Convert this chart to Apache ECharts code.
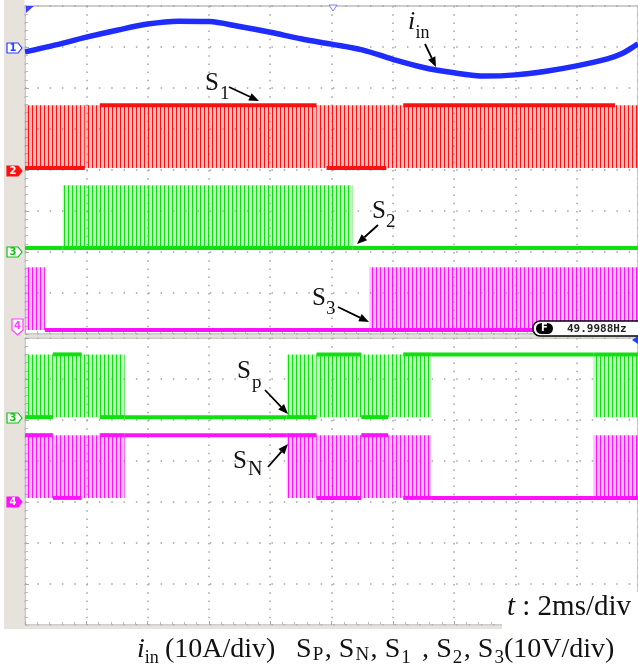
<!DOCTYPE html>
<html>
<head>
<meta charset="utf-8">
<script src="https://cdn.jsdelivr.net/npm/echarts@6.0.0/dist/echarts.min.js"></script>
<style>
  html, body { margin: 0; padding: 0; background: #fff; }
  #chart { width: 638px; height: 667px; }
</style>
</head>
<body>
<div id="chart"></div>
<script>
// time base 2 ms/div, 10 divisions
const timeTicks = [0, 2, 4, 6, 8, 10, 12, 14, 16, 18, 20];

// input current i_in (A)
const iinTime = [0, 1, 2, 3, 4, 5, 6, 7, 8, 9, 10, 11, 12, 13, 14, 15, 16, 17, 18, 19, 19.5, 19.8, 20];
const iinAmp = [-1.2, 0.5, 2.4, 4.1, 5.6, 6.3, 6.2, 5.0, 3.6, 2.0, 0.7, -0.7, -3.0, -5.0, -6.3, -7.1, -6.8, -5.9, -4.6, -2.9, -1.5, -0.2, 0.8];

// gate signals: [start ms, end ms, state]
// H = high, L = low, P = switching, PH = switching mostly high, PL = switching mostly low
const s1Seg = [[0, 1.95, 'PL'], [1.95, 2.44, 'P'], [2.44, 9.51, 'PH'], [9.51, 9.84, 'P'], [9.84, 11.79, 'PL'],
  [11.79, 12.34, 'P'], [12.34, 19.25, 'PH'], [19.25, 20, 'P']];
const s2Seg = [[0, 1.23, 'L'], [1.23, 10.68, 'PL'], [10.68, 20, 'L']];
const s3Seg = [[0, 0.65, 'P'], [0.65, 11.23, 'L'], [11.23, 20, 'PL']];
const spSeg = [[0, 0.91, 'PL'], [0.91, 1.85, 'PH'], [1.85, 2.44, 'P'], [2.44, 3.25, 'PL'], [3.25, 8.54, 'L'],
  [8.54, 9.51, 'PL'], [9.51, 10.97, 'PH'], [10.97, 11.85, 'PL'], [11.85, 12.34, 'P'], [12.34, 13.25, 'PH'],
  [13.25, 18.54, 'H'], [18.54, 20, 'PH']];
const snSeg = [[0, 0.91, 'PH'], [0.91, 1.85, 'PL'], [1.85, 2.44, 'P'], [2.44, 3.25, 'PH'], [3.25, 8.54, 'H'],
  [8.54, 9.51, 'PH'], [9.51, 10.97, 'PL'], [10.97, 11.85, 'PH'], [11.85, 12.34, 'P'], [12.34, 13.25, 'PL'],
  [13.25, 18.54, 'L'], [18.54, 20, 'PL']];

const gateHighV = 15.3;
const voltsPerDiv = 10;
const ampsPerDiv = 10;

// pale striped fill that stands in for the dense PWM pulses
function stripes(color, light) {
  const c = document.createElement('canvas');
  c.width = 4; c.height = 8;
  const g = c.getContext('2d');
  g.fillStyle = light; g.fillRect(0, 0, 4, 8);
  g.fillStyle = color; g.fillRect(0, 0, 1, 8);
  return { image: c, repeat: 'repeat' };
}

const RED = '#ff1010', GREEN = '#10e010', MAG = '#ff10ff', BLUE = '#1f2cff';

const channels = [
  { seg: s1Seg, grid: 0, offset: 4.05, color: RED, pattern: stripes(RED, 'rgba(255,40,40,0.3)') },
  { seg: s2Seg, grid: 0, offset: 2.10, color: GREEN, pattern: stripes(GREEN, 'rgba(40,225,40,0.28)') },
  { seg: s3Seg, grid: 0, offset: 0.10, color: MAG, pattern: stripes(MAG, 'rgba(255,40,255,0.28)') },
  { seg: spSeg, grid: 1, offset: 5.07, color: GREEN, pattern: stripes(GREEN, 'rgba(40,225,40,0.28)') },
  { seg: snSeg, grid: 1, offset: 3.10, color: MAG, pattern: stripes(MAG, 'rgba(255,40,255,0.28)') }
];

function gateSeries(ch) {
  const hi = ch.offset + gateHighV / voltsPerDiv;
  return {
    type: 'custom',
    xAxisIndex: ch.grid,
    yAxisIndex: ch.grid,
    silent: true,
    data: ch.seg.map(s => [s[0], s[1], ch.offset, hi]),
    encode: { x: [0, 1], y: [2, 3] },
    renderItem: function (params, api) {
      const st = ch.seg[params.dataIndex][2];
      const p0 = api.coord([api.value(0), api.value(2)]);
      const p1 = api.coord([api.value(1), api.value(3)]);
      const x = p0[0], w = p1[0] - p0[0], yLo = p0[1], yHi = p1[1];
      const kids = [];
      if (st[0] === 'P') {
        kids.push({ type: 'rect', shape: { x: x, y: yHi, width: w, height: yLo - yHi }, style: { fill: ch.pattern } });
      }
      if (st === 'H' || st === 'PH') {
        kids.push({ type: 'rect', shape: { x: x, y: yHi - 2, width: w, height: 4 }, style: { fill: ch.color } });
      }
      if (st === 'L' || st === 'PL') {
        kids.push({ type: 'rect', shape: { x: x, y: yLo - 2, width: w, height: 4 }, style: { fill: ch.color } });
      }
      return { type: 'group', children: kids };
    }
  };
}

// ---------- text helpers ----------
const SERIF = '"Liberation Serif", "Times New Roman", serif';
const measure = document.createElement('canvas').getContext('2d');
function fontOf(size, italic) { return (italic ? 'italic ' : '') + size + 'px ' + SERIF; }

// pieces: [text, size, drop, italic, gapWeight]; baseline b; optional right end x1
function textRow(pieces, x0, b, x1) {
  const widths = pieces.map(p => { measure.font = fontOf(p[1], p[3]); return measure.measureText(p[0]).width; });
  const total = widths.reduce((a, c) => a + c, 0);
  const weights = pieces.map((p, i) => (i < pieces.length - 1 ? (p[4] == null ? 1 : p[4]) : 0));
  const wsum = weights.reduce((a, c) => a + c, 0) || 1;
  const extra = x1 ? (x1 - x0 - total) / wsum : 0;
  let x = x0;
  return pieces.map((p, i) => {
    const el = {
      type: 'text', z: 100, silent: true,
      style: { text: p[0], x: x, y: b + (p[2] || 0) - 0.34 * p[1], font: fontOf(p[1], p[3]), fill: '#111', align: 'left', verticalAlign: 'middle' }
    };
    x += widths[i] + extra * weights[i];
    return el;
  });
}

function arrow(x1, y1, x2, y2) {
  const a = Math.atan2(y2 - y1, x2 - x1), L = 10, W = 4;
  const bx = x2 - L * Math.cos(a), by = y2 - L * Math.sin(a);
  return [
    { type: 'line', z: 100, shape: { x1: x1, y1: y1, x2: bx, y2: by }, style: { stroke: '#000', lineWidth: 1.8 } },
    { type: 'polygon', z: 100, shape: { points: [[x2, y2], [bx - W * Math.sin(a), by + W * Math.cos(a)], [bx + W * Math.sin(a), by - W * Math.cos(a)]] }, style: { fill: '#000' } }
  ];
}

function marker(label, y, color, filled) {
  return [
    { type: 'polygon', z: 100, shape: { points: [[7, y - 5], [18, y - 5], [22, y], [18, y + 5], [7, y + 5]] },
      style: { fill: filled ? color : '#fff', stroke: color, lineWidth: 1.2 } },
    { type: 'text', z: 101, style: { text: label, x: 13, y: y + 0.5, font: 'bold 10px "DejaVu Sans"', fill: filled ? '#fff' : color, align: 'center', verticalAlign: 'middle' } }
  ];
}

const graphics = [].concat(
  // left bezel and strips between panels
  [{ type: 'rect', z: 90, shape: { x: 4, y: 0, width: 20.5, height: 629 }, style: { fill: '#e7e3dc' } },
   { type: 'rect', z: 90, shape: { x: 4, y: 625.5, width: 500, height: 3.5 }, style: { fill: '#e7e3dc' } },
   { type: 'rect', z: 90, shape: { x: 25, y: 334.8, width: 613, height: 2.6 }, style: { fill: '#e4e1da' } }],
  marker('1', 48, '#2b3cff', false),
  marker('2', 171, '#ff1010', true),
  marker('3', 252, '#10c010', false),
  [{ type: 'polygon', z: 100, shape: { points: [[12, 319], [23, 319], [23, 330], [17.5, 335], [12, 330]] }, style: { fill: '#fff', stroke: '#ff40ff', lineWidth: 1.2 } },
   { type: 'text', z: 101, style: { text: '4', x: 17.5, y: 326, font: 'bold 10px "DejaVu Sans"', fill: '#ff40ff', align: 'center', verticalAlign: 'middle' } }],
  marker('3', 418, '#10c010', false),
  marker('4', 502, '#ff10ff', true),
  // trigger / position markers
  [{ type: 'polygon', z: 100, shape: { points: [[26, 6], [34, 6], [26, 13]] }, style: { fill: '#3a44ff' } },
   { type: 'polygon', z: 100, shape: { points: [[329, 5], [337, 5], [333, 11]] }, style: { fill: '#fff', stroke: '#7a7aff', lineWidth: 1 } },
   { type: 'polygon', z: 100, shape: { points: [[638, 336], [632, 340], [638, 344]] }, style: { fill: '#2040ff' } }],
  // frequency readout
  [{ type: 'rect', z: 100, shape: { x: 533, y: 321, width: 120, height: 15, r: 7 }, style: { fill: '#fff', stroke: '#000', lineWidth: 1.5 } },
   { type: 'rect', z: 101, shape: { x: 536, y: 323, width: 17, height: 11, r: 5.5 }, style: { fill: '#000' } },
   { type: 'text', z: 102, style: { text: 'F', x: 544.5, y: 328.8, font: 'bold 10px "DejaVu Sans"', fill: '#fff', align: 'center', verticalAlign: 'middle' } },
   { type: 'text', z: 102, style: { text: '49.9988Hz', x: 567, y: 329, font: 'bold 11px "DejaVu Sans Mono"', fill: '#222', align: 'left', verticalAlign: 'middle' } }],
  // trace labels
  textRow([['i', 26, 0, true]], 408, 31), textRow([['in', 18, 0]], 415.5, 39),
  arrow(425, 44, 436, 67),
  textRow([['S', 25, 0]], 205, 92), textRow([['1', 19, 0]], 220, 100),
  arrow(229, 87, 259, 101),
  textRow([['S', 25, 0]], 372, 220), textRow([['2', 19, 0]], 386, 228),
  arrow(378, 225, 357, 244),
  textRow([['S', 25, 0]], 312, 307), textRow([['3', 19, 0]], 326, 315),
  arrow(338, 307, 369, 322),
  textRow([['S', 25, 0]], 237, 380), textRow([['p', 19, 0]], 252, 389),
  arrow(265, 390, 288, 414),
  textRow([['S', 25, 0]], 233, 470), textRow([['N', 20, 0]], 248, 477),
  arrow(268, 467, 288, 444),
  // time base label
  [{ type: 'rect', z: 95, shape: { x: 502, y: 592, width: 136, height: 38 }, style: { fill: '#fff' } }],
  textRow([['t', 29, 0, true], [' : 2ms/div', 29, 0]], 507, 617),
  // caption
  textRow([['i', 28, 0, true], ['in', 18, 5]], 137, 659),
  textRow([['(10A/div)', 28, 0]], 165, 659),
  textRow([['S', 28, 0, false, 0.15], ['P', 19, 2, false, 0.2], [',', 28, 0, false, 1], ['S', 28, 0, false, 0.15], ['N', 19, 2, false, 0.2],
    [',', 28, 0, false, 1], ['S', 28, 0, false, 0.15], ['1', 19, 5, false, 0.6], [' ,', 28, 0, false, 1], ['S', 28, 0, false, 0.15],
    ['2', 19, 5, false, 0.2], [',', 28, 0, false, 1], ['S', 28, 0, false, 0.15], ['3', 19, 5, false, 0]], 296, 659, 504),
  textRow([['(10V/div)', 28, 0]], 504, 659)
);

function xAxisFor(g) {
  return {
    type: 'value', gridIndex: g, min: timeTicks[0], max: timeTicks[timeTicks.length - 1], interval: 2,
    axisLabel: { show: false }, axisLine: { show: false },
    axisTick: { show: true, inside: true, length: 4, lineStyle: { color: '#aaa' } },
    minorTick: { show: true, splitNumber: 5, length: 3, lineStyle: { color: '#bbb' } },
    splitLine: { show: true, lineStyle: { color: '#a4a4a4', width: 1.5, type: [1.5, 6.7] } }
  };
}
function yAxisFor(g, divs) {
  return {
    type: 'value', gridIndex: g, min: 0, max: divs, interval: 1,
    axisLabel: { show: false }, axisLine: { show: false },
    axisTick: { show: true, inside: true, length: 4, lineStyle: { color: '#aaa' } },
    minorTick: { show: true, splitNumber: 5, length: 3, lineStyle: { color: '#bbb' } },
    splitLine: { show: true, lineStyle: { color: '#a4a4a4', width: 1.5, type: [1.5, 10.82] } }
  };
}

const chart = echarts.init(document.getElementById('chart'));
chart.setOption({
  animation: false,
  backgroundColor: '#fff',
  grid: [
    { left: 25, top: 6, width: 616, height: 328, show: true, borderColor: '#bdbdbd', borderWidth: 1.5, backgroundColor: '#fff' },
    { left: 25, top: 338, width: 616, height: 287, show: true, borderColor: '#bdbdbd', borderWidth: 1.5, backgroundColor: '#fff' }
  ],
  xAxis: [xAxisFor(0), xAxisFor(1)],
  yAxis: [yAxisFor(0, 8), yAxisFor(1, 7)],
  series: channels.map(gateSeries).concat([{
    type: 'line',
    xAxisIndex: 0, yAxisIndex: 0,
    data: iinTime.map((t, i) => [t, 7.0 + iinAmp[i] / ampsPerDiv]),
    smooth: 0.35, symbol: 'none', silent: true, z: 5,
    lineStyle: { color: BLUE, width: 5.5 }
  }]),
  graphic: graphics
});
</script>
</body>
</html>
